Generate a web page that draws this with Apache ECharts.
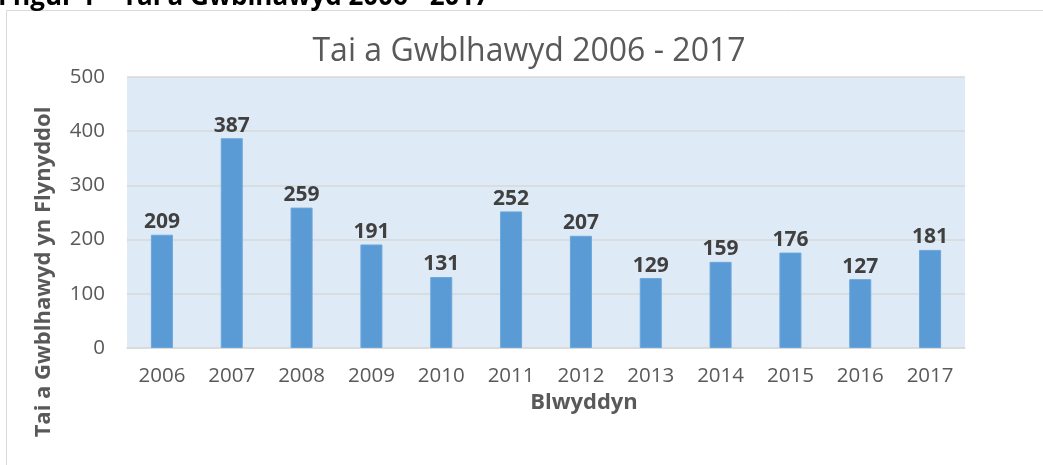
<!DOCTYPE html>
<html>
<head>
<meta charset="utf-8">
<script src="https://cdn.jsdelivr.net/npm/echarts@6/dist/echarts.min.js"></script>
<style>
  html, body { margin: 0; padding: 0; background: #fff; }
  #chart { width: 1043px; height: 465px; }
</style>
</head>
<body>
<div id="chart"></div>
<script>
const years = ['2006', '2007', '2008', '2009', '2010', '2011', '2012', '2013', '2014', '2015', '2016', '2017']
const completed = [209, 387, 259, 191, 131, 252, 207, 129, 159, 176, 127, 181]
const titleText = 'Tai a Gwblhawyd 2006 - 2017'
const figureCaption = 'Ffigur 1 – Tai a Gwblhawyd 2006 - 2017'
const xName = 'Blwyddyn'
const yName = 'Tai a Gwblhawyd yn Flynyddol'

const font = '"Open Sans", sans-serif'
const textColor = '#595959'

const chart = echarts.init(document.getElementById('chart'))

chart.setOption({
  animation: false,
  textStyle: { fontFamily: font },
  grid: { left: 127, right: 78, top: 77, bottom: 117, show: true, backgroundColor: '#DEEAF6', borderWidth: 0 },
  graphic: [
    // chart frame, runs off the right/bottom like the cropped figure
    { type: 'rect', shape: { x: 6.5, y: 10.5, width: 1100, height: 500 }, style: { fill: 'none', stroke: '#D9D9D9', lineWidth: 1 }, z: -1 },
    { type: 'text', left: -2, top: -15, style: { text: figureCaption, font: 'bold 26px ' + font, fill: '#000' } },
    { type: 'text', x: 529, y: 52, style: { text: titleText, font: '32px ' + font, fill: textColor, align: 'center', verticalAlign: 'middle' } },
    { type: 'text', x: 584, y: 403, style: { text: xName, font: 'bold 22px ' + font, fill: textColor, align: 'center', verticalAlign: 'middle' } },
    { type: 'text', x: 44, y: 272, rotation: Math.PI / 2, style: { text: yName, font: 'bold 22px ' + font, fill: textColor, align: 'center', verticalAlign: 'middle' } }
  ],
  xAxis: {
    type: 'category',
    data: years,
    axisTick: { show: false },
    axisLine: { lineStyle: { color: '#D9D9D9', width: 1.5 } },
    axisLabel: { color: textColor, fontSize: 20.5, margin: 18 }
  },
  yAxis: {
    type: 'value',
    min: 0,
    max: 500,
    interval: 100,
    axisLine: { show: false },
    axisTick: { show: false },
    axisLabel: { color: textColor, fontSize: 20.5, margin: 22 },
    splitLine: { lineStyle: { color: '#D9D9D9', width: 1.5 } }
  },
  series: [
    {
      type: 'bar',
      data: completed,
      barWidth: 22,
      itemStyle: { color: '#5B9BD5', borderColor: '#6AA6DC', borderWidth: 1 },
      label: {
        show: true,
        position: 'top',
        distance: 2,
        color: '#404040',
        fontWeight: 'bold',
        fontSize: 21
      }
    }
  ]
})
</script>
</body>
</html>
